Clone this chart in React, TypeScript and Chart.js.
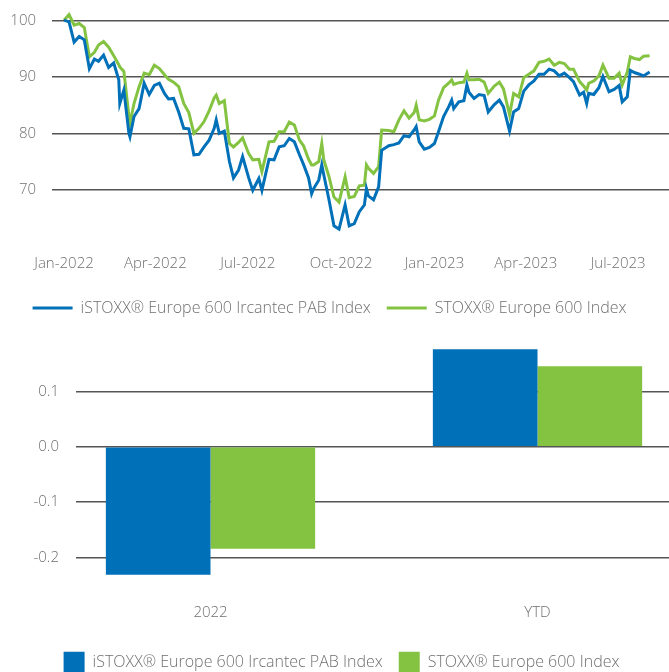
import React, { useEffect, useRef } from 'react';
import { Chart, registerables } from 'chart.js';

Chart.register(...registerables);

// ---------- data ----------
const seriesNames = ['iSTOXX® Europe 600 Ircantec PAB Index', 'STOXX® Europe 600 Index'];

// x-axis: days since 1 Jan 2022
const tickDays = [0, 90, 181, 273, 365, 455, 546];
const tickLabels = ['Jan-2022', 'Apr-2022', 'Jul-2022', 'Oct-2022', 'Jan-2023', 'Apr-2023', 'Jul-2023'];
const lineYTicks = [70, 80, 90, 100];

const days = [
  0, 5, 10, 15, 20, 25, 30, 34, 39, 44, 49, 54, 55, 59, 64, 65, 69, 74, 79, 84, 89, 94, 99, 103, 108, 113,
  118, 123, 128, 133, 138, 143, 148, 150, 153, 158, 163, 167, 172, 176, 182, 186, 192, 195, 202, 207, 212, 217, 222, 227, 232,
  236, 241, 244, 246, 251, 254, 256, 261, 266, 271, 277, 281, 286, 291, 296, 298, 300, 305, 310, 313, 320, 325, 330, 335, 340, 345, 347, 350,
  355, 360, 365, 369, 374, 379, 382, 384, 389, 394, 397, 399, 404, 409, 414, 418, 424, 429, 433, 439, 443, 448, 453, 458, 463, 468,
  473, 478, 483, 488, 493, 498, 502, 508, 512, 515, 517, 522, 527, 531, 537, 542, 547, 550, 555, 558, 562, 567, 571, 577,
];

const pabIndex = [
  100.1, 99.8, 96.2, 97.2, 96.6, 91.5, 93.2, 92.8, 93.9, 91.7, 92.5, 89.5, 85.3, 87.7, 80.0, 79.4, 83.0, 84.4, 88.9, 86.9, 88.5, 88.9, 87.1, 86.1, 86.2, 83.8,
  80.9, 80.8, 76.2, 76.3, 77.6, 78.8, 80.9, 82.4, 80.0, 80.4, 75.0, 72.1, 73.5, 75.9, 72.1, 69.9, 72.0, 69.9, 75.4, 75.3, 77.6, 77.8, 79.1, 78.5, 76.2,
  74.5, 72.1, 69.3, 70.2, 71.7, 74.4, 72.6, 68.3, 63.6, 63.0, 67.3, 63.6, 64.0, 66.1, 67.3, 70.2, 68.9, 68.2, 70.5, 77.0, 77.8, 78.0, 78.3, 79.6, 79.4, 80.6, 81.2, 78.5,
  77.2, 77.5, 78.2, 80.3, 83.0, 84.7, 85.9, 84.4, 85.6, 85.8, 88.6, 87.3, 86.2, 86.9, 86.7, 83.8, 85.1, 85.9, 84.7, 80.4, 83.8, 84.4, 87.5, 88.6, 89.3, 90.5,
  90.5, 91.4, 91.1, 90.2, 90.7, 89.9, 89.2, 86.8, 87.3, 85.3, 87.1, 86.9, 88.1, 90.1, 87.4, 87.8, 88.5, 85.6, 86.5, 91.2, 90.8, 90.5, 90.2, 90.9,
];

const stoxxIndex = [
  100.1, 101.1, 99.2, 99.5, 98.8, 93.6, 94.4, 95.7, 96.3, 95.3, 93.8, 92.2, 91.8, 91.0, 83.0, 81.8, 85.3, 88.3, 90.7, 90.4, 92.1, 91.5, 90.4, 89.6, 89.1, 88.3,
  85.3, 83.7, 80.0, 80.9, 82.1, 84.0, 86.3, 86.8, 85.3, 85.8, 78.2, 77.6, 78.4, 79.2, 76.4, 75.3, 75.4, 73.2, 78.5, 78.6, 80.3, 80.3, 82.0, 81.5, 78.8,
  77.8, 75.4, 74.4, 74.4, 75.0, 78.2, 75.3, 72.4, 68.7, 67.8, 72.3, 68.6, 68.8, 70.7, 70.8, 74.4, 73.8, 72.9, 74.1, 80.6, 80.5, 80.3, 82.4, 84.0, 82.7, 83.7, 85.0, 82.4,
  82.2, 82.5, 83.1, 85.9, 88.1, 88.9, 89.5, 88.7, 89.0, 89.1, 90.7, 89.5, 89.5, 89.6, 89.1, 87.1, 88.4, 89.1, 87.9, 83.3, 87.1, 86.5, 89.9, 90.5, 91.1, 92.6,
  92.8, 93.2, 92.1, 92.6, 92.4, 91.4, 91.4, 89.2, 88.4, 87.7, 88.9, 89.3, 90.2, 92.1, 89.8, 89.8, 90.7, 88.6, 90.9, 93.6, 93.3, 93.1, 93.7, 93.8,
];

const periods = ['2022', 'YTD'];
const pabReturns = [-0.231, 0.176];
const stoxxReturns = [-0.184, 0.145];
const barYTicks = [-0.2, -0.1, 0, 0.1];

// ---------- styles ----------
const BLUE = '#0070B8';
const GREEN = '#84C341';
const TEXT = '#707070';
const GRID = '#555555';
const TICK_FONT = { family: "'Open Sans', 'Noto Sans', sans-serif", size: 15, weight: '300' as any };
const LEGEND_FONT = { family: "'Open Sans', 'Noto Sans', sans-serif", size: 16, weight: '300' as any };

export default function App() {
  const lineRef = useRef<HTMLCanvasElement | null>(null);
  const barRef = useRef<HTMLCanvasElement | null>(null);

  useEffect(() => {
    const lineChart = new Chart(lineRef.current as HTMLCanvasElement, {
      type: 'line',
      data: {
        datasets: [
          {
            label: seriesNames[0],
            data: days.map((d, i) => ({ x: d, y: pabIndex[i] })),
            borderColor: BLUE,
            backgroundColor: BLUE,
            borderWidth: 3,
            pointRadius: 0,
            tension: 0,
          },
          {
            label: seriesNames[1],
            data: days.map((d, i) => ({ x: d, y: stoxxIndex[i] })),
            borderColor: GREEN,
            backgroundColor: GREEN,
            borderWidth: 3,
            pointRadius: 0,
            tension: 0,
          },
        ],
      },
      options: {
        animation: false,
        responsive: false,
        layout: { padding: { top: 12.25, bottom: 4, left: -10, right: 0 } },
        plugins: {
          tooltip: { enabled: false },
          legend: {
            position: 'bottom',
            labels: {
              boxWidth: 40,
              boxHeight: 3,
              padding: 16,
              color: TEXT,
              font: LEGEND_FONT,
              generateLabels: (chart: any) =>
                Chart.defaults.plugins.legend.labels
                  .generateLabels(chart)
                  .map((l: any) => ({ ...l, lineWidth: 0, fillStyle: l.strokeStyle })),
            },
          },
        },
        scales: {
          x: {
            type: 'linear',
            min: -11.8,
            max: 596.1,
            grid: { display: false, drawTicks: false },
            border: { display: false },
            ticks: {
              padding: 20.2,
              color: TEXT,
              font: TICK_FONT,
              maxRotation: 0,
              autoSkip: false,
              callback: (v: any) => {
                const i = tickDays.indexOf(Number(v));
                return i >= 0 ? tickLabels[i] : '';
              },
            },
            afterBuildTicks: (s: any) => {
              s.ticks = tickDays.map((v) => ({ value: v }));
            },
            afterFit: (s: any) => {
              s.height = 49.2;
            },
          },
          y: {
            min: 62,
            max: 101.5,
            grid: { color: GRID, lineWidth: 1.5, drawTicks: true, tickLength: 16, tickColor: 'rgba(0,0,0,0)' },
            border: { display: false },
            ticks: { padding: 0, color: TEXT, font: TICK_FONT, callback: (v: any) => String(v) },
            afterBuildTicks: (s: any) => {
              s.ticks = lineYTicks.map((v) => ({ value: v }));
            },
            afterFit: (s: any) => {
              s.width = 62;
            },
          },
        },
      } as any,
    });

    const barChart = new Chart(barRef.current as HTMLCanvasElement, {
      type: 'bar',
      data: {
        datasets: [
          {
            label: seriesNames[0],
            data: periods.map((_, i) => ({ x: i, y: pabReturns[i] })),
            backgroundColor: BLUE,
            borderWidth: 0,
            categoryPercentage: 0.64,
            barPercentage: 1,
          },
          {
            label: seriesNames[1],
            data: periods.map((_, i) => ({ x: i, y: stoxxReturns[i] })),
            backgroundColor: GREEN,
            borderWidth: 0,
            categoryPercentage: 0.64,
            barPercentage: 1,
          },
        ],
      } as any,
      options: {
        animation: false,
        responsive: false,
        layout: { padding: { top: 11.4, bottom: 7.3, left: 14, right: 0 } },
        plugins: {
          tooltip: { enabled: false },
          legend: {
            position: 'bottom',
            labels: { boxWidth: 21, boxHeight: 21, padding: 16, color: TEXT, font: LEGEND_FONT },
          },
        },
        scales: {
          x: {
            type: 'linear',
            min: -0.4113,
            max: 1.4021,
            offset: false,
            grid: { display: false, drawTicks: false, offset: false },
            border: { display: false },
            ticks: {
              padding: 18.7,
              color: TEXT,
              font: TICK_FONT,
              maxRotation: 0,
              autoSkip: false,
              callback: (v: any) => periods[Number(v)] ?? '',
            },
            afterBuildTicks: (s: any) => {
              s.ticks = periods.map((_, i) => ({ value: i }));
            },
            afterFit: (s: any) => {
              s.height = 50.4;
            },
          },
          y: {
            min: -0.25,
            max: 0.19,
            grid: { color: GRID, lineWidth: 1.5, drawTicks: true, tickLength: 17, tickColor: 'rgba(0,0,0,0)' },
            border: { display: false },
            ticks: { padding: 0, color: TEXT, font: TICK_FONT, callback: (v: any) => Number(v).toFixed(1) },
            afterBuildTicks: (s: any) => {
              s.ticks = barYTicks.map((v) => ({ value: v }));
            },
            afterFit: (s: any) => {
              s.width = 62;
            },
          },
        },
      } as any,
    });

    return () => {
      lineChart.destroy();
      barChart.destroy();
    };
  }, []);

  return (
    <div
      style={{
        position: 'absolute',
        left: 0,
        top: 0,
        width: 669,
        height: 672,
        overflow: 'hidden',
        background: '#ffffff',
      }}
    >
      <canvas ref={lineRef} width={669} height={330} style={{ position: 'absolute', left: 0, top: 0 }} />
      <canvas ref={barRef} width={669} height={360} style={{ position: 'absolute', left: 0, top: 330 }} />
    </div>
  );
}
